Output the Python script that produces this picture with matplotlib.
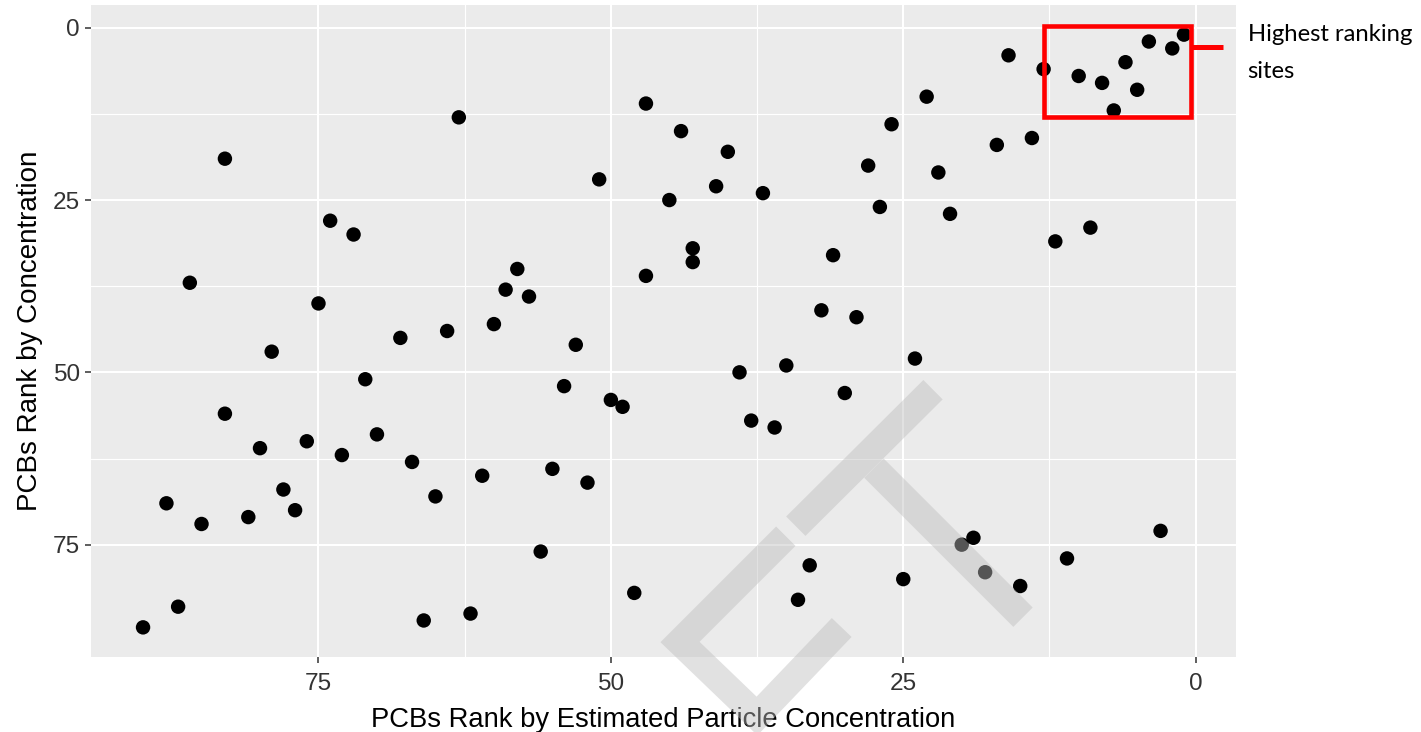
import matplotlib.pyplot as plt
from matplotlib.lines import Line2D
from matplotlib.patches import Rectangle

plt.rcParams['font.family'] = ['Liberation Sans', 'DejaVu Sans']

# rank of each site by estimated particle concentration (x) and by measured concentration (y)
est_rank = [83, 74, 72, 86, 75, 68, 64, 79, 63, 47, 44, 40, 51, 45, 41, 37, 43, 43,
            47, 58, 59, 57, 60, 53, 31, 32, 29, 23, 26, 28, 27, 22, 24, 16, 13, 10,
            8, 6, 4, 2, 1, 5, 7, 17, 14, 21, 12, 9, 71, 83, 76, 80, 70, 73, 67, 78,
            77, 81, 88, 85, 65, 61, 87, 90, 66, 62, 54, 50, 49, 55, 52, 56, 48, 39,
            35, 30, 38, 36, 33, 34, 25, 19, 20, 18, 15, 11, 3]
conc_rank = [19, 28, 30, 37, 40, 45, 44, 47, 13, 11, 15, 18, 22, 25, 23, 24, 32, 34,
             36, 35, 38, 39, 43, 46, 33, 41, 42, 10, 14, 20, 26, 21, 48, 4, 6, 7,
             8, 5, 2, 3, 1, 9, 12, 17, 16, 27, 31, 29, 51, 56, 60, 61, 59, 62, 63, 67,
             70, 71, 69, 72, 68, 65, 84, 87, 86, 85, 52, 54, 55, 64, 66, 76, 82, 50,
             49, 53, 57, 58, 78, 83, 80, 74, 75, 79, 81, 77, 73]

major_ticks = [0, 25, 50, 75]
minor_ticks = [12.5, 37.5, 62.5]

# highlight box around the top ranked sites (data units)
box_x = (0.43, 12.98)
box_y = (-0.2, 12.98)
note_lines = ['Highest ranking', 'sites']

W, H = 1421, 732


def px(x, y):
    return x / W, 1 - y / H


def expand(v):
    lo, hi = min(v), max(v)
    pad = 0.05 * (hi - lo)
    return lo - pad, hi + pad


fig = plt.figure(figsize=(W / 100, H / 100), dpi=100)
ax = fig.add_axes([91 / W, 1 - 657 / H, (1236 - 91) / W, (657 - 5) / H])
ax.set_facecolor('#EBEBEB')
for s in ax.spines.values():
    s.set_visible(False)

ax.scatter(est_rank, conc_rank, s=108, c='black', edgecolors='none', zorder=3)

xlo, xhi = expand(est_rank)
ylo, yhi = expand(conc_rank)
ax.set_xlim(xhi, xlo)
ax.set_ylim(yhi, ylo)

ax.set_xticks(major_ticks)
ax.set_yticks(major_ticks)
ax.set_xticks(minor_ticks, minor=True)
ax.set_yticks(minor_ticks, minor=True)
ax.set_axisbelow(True)
ax.grid(which='major', color='white', lw=1.5)
ax.grid(which='minor', color='white', lw=0.8)
ax.tick_params(which='minor', length=0)
ax.tick_params(which='major', length=4.3, width=1.1, color='#333333',
               labelsize=17.6, labelcolor='#333333')
ax.tick_params(axis='x', pad=7.2)
ax.tick_params(axis='y', pad=3.6)

ax.set_xlabel('PCBs Rank by Estimated Particle Concentration', fontsize=19.7, labelpad=8.5)
ax.set_ylabel('PCBs Rank by Concentration', fontsize=20, labelpad=7)

# red highlight box with a connector to the note
ax.add_patch(Rectangle((box_x[0], box_y[0]), box_x[1] - box_x[0], box_y[1] - box_y[0],
                       fill=False, ec='red', lw=3.3, clip_on=False, zorder=5))
ax.plot([box_x[0], -2.35], [2.86, 2.86], color='red', lw=3.6,
        solid_capstyle='butt', clip_on=False, zorder=5)
ax.text(-4.45, 1.95, note_lines[0], fontfamily='Lato', fontsize=17.2,
        va='baseline', ha='left')
ax.text(-4.45, 7.25, note_lines[1], fontfamily='Lato', fontsize=17.2,
        va='baseline', ha='left')

# watermark overlay
wm = dict(color='#BDBDBD', alpha=0.45, lw=19.7, solid_capstyle='butt',
          solid_joinstyle='miter', transform=fig.transFigure, zorder=10)
for pts in ([(785.8, 536.2), (680, 642), (757, 716), (841.7, 627.5)],
            [(933, 389.7), (795.8, 526.2)],
            [(873.9, 468.1), (1023, 617.2)]):
    xs, ys = zip(*[px(*p) for p in pts])
    fig.add_artist(Line2D(xs, ys, **wm))

fig.savefig('out.png', dpi=100)
